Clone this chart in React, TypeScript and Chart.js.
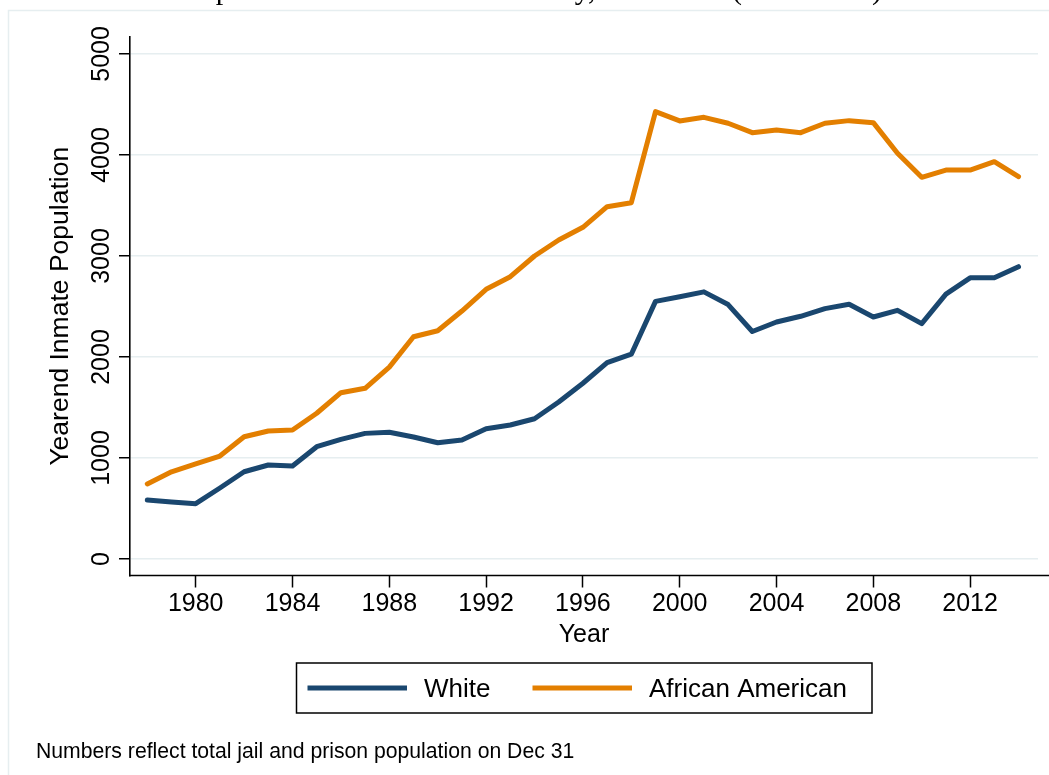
import React, { useEffect, useRef } from "react";
import { Chart, registerables } from "chart.js";

Chart.register(...registerables);

// ---------- data ----------
const years = [
  1978, 1979, 1980, 1981, 1982, 1983, 1984, 1985, 1986, 1987, 1988, 1989,
  1990, 1991, 1992, 1993, 1994, 1995, 1996, 1997, 1998, 1999, 2000, 2001,
  2002, 2003, 2004, 2005, 2006, 2007, 2008, 2009, 2010, 2011, 2012, 2013, 2014,
];
const whitePop = [
  584, 564, 548, 703, 864, 931, 921, 1112, 1185, 1244, 1255, 1208,
  1151, 1178, 1290, 1327, 1389, 1554, 1740, 1944, 2028, 2551, 2596, 2645,
  2519, 2253, 2347, 2403, 2479, 2522, 2396, 2462, 2330, 2622, 2784, 2784, 2894,
];
const africanAmericanPop = [
  743, 864, 941, 1020, 1211, 1267, 1277, 1443, 1647, 1690, 1900, 2201,
  2260, 2455, 2670, 2795, 3000, 3158, 3284, 3488, 3528, 4429, 4337, 4373,
  4314, 4221, 4248, 4221, 4314, 4340, 4320, 4017, 3779, 3851, 3851, 3934, 3785,
];
const seriesLabels = ["White", "African American"];
const xTickValues = [1980, 1984, 1988, 1992, 1996, 2000, 2004, 2008, 2012];
const yTickValues = [0, 1000, 2000, 3000, 4000, 5000];
const xAxisTitle = "Year";
const yAxisTitle = "Yearend Inmate Population";
const chartTitle = "Yearend Inmate Population in Sacramento County, California (1978-2014)";
const footnote = "Numbers reflect total jail and prison population on Dec 31";

// ---------- style ----------
const NAVY = "#1a476f";
const ORANGE = "#e37f00";
const GRID = "#e6eef0";
const SANS = "'Liberation Sans', Arial, Helvetica, sans-serif";
const SERIF = "'Liberation Serif', 'Times New Roman', serif";
const W = 1049;
const H = 775;

const overlayPlugin = {
  id: "stataOverlay",
  beforeDraw(chart: any) {
    const ctx = chart.ctx;
    ctx.save();
    ctx.fillStyle = "#ffffff";
    ctx.fillRect(0, 0, W, H);
    // outer graph region border
    ctx.strokeStyle = GRID;
    ctx.lineWidth = 1.5;
    ctx.beginPath();
    ctx.moveTo(8.5, H);
    ctx.lineTo(8.5, 10.5);
    ctx.lineTo(W, 10.5);
    ctx.stroke();
    // cut-off title
    ctx.fillStyle = "#000";
    ctx.font = `30px ${SERIF}`;
    ctx.textAlign = "right";
    ctx.textBaseline = "alphabetic";
    ctx.fillText(chartTitle, 882, -1.5);
    ctx.restore();
  },
  afterDraw(chart: any) {
    const ctx = chart.ctx;
    const area = chart.chartArea;
    const yScale = chart.scales.y;
    ctx.save();
    // x axis line (extends to the right edge)
    ctx.strokeStyle = "#000";
    ctx.lineWidth = 1.6;
    ctx.beginPath();
    ctx.moveTo(area.left - 0.8, area.bottom);
    ctx.lineTo(W, area.bottom);
    ctx.stroke();

    // y tick labels, rotated
    ctx.fillStyle = "#000";
    ctx.font = `25px ${SANS}`;
    ctx.textAlign = "center";
    ctx.textBaseline = "alphabetic";
    yScale.ticks.forEach((t: any) => {
      const py = yScale.getPixelForValue(t.value);
      ctx.save();
      ctx.translate(108.5, py);
      ctx.rotate(-Math.PI / 2);
      ctx.fillText(String(t.value), 0, 0);
      ctx.restore();
    });

    // legend
    const lx0 = 296.5, lx1 = 872, ly0 = 663, ly1 = 713;
    ctx.strokeStyle = "#000";
    ctx.lineWidth = 1.5;
    ctx.strokeRect(lx0, ly0, lx1 - lx0, ly1 - ly0);
    const ly = (ly0 + ly1) / 2;
    const entries = [
      { label: seriesLabels[0], color: NAVY, x0: 307.5, x1: 407, tx: 424 },
      { label: seriesLabels[1], color: ORANGE, x0: 532.5, x1: 632, tx: 649 },
    ];
    ctx.font = `26px ${SANS}`;
    ctx.textAlign = "left";
    entries.forEach((e) => {
      ctx.strokeStyle = e.color;
      ctx.lineWidth = 5;
      ctx.lineCap = "butt";
      ctx.beginPath();
      ctx.moveTo(e.x0, ly);
      ctx.lineTo(e.x1, ly);
      ctx.stroke();
      ctx.fillStyle = "#000";
      ctx.fillText(e.label, e.tx, 697);
    });

    // footnote
    ctx.font = `21.2px ${SANS}`;
    ctx.fillText(footnote, 36, 758);
    ctx.restore();
  },
};

export default function App() {
  const canvasRef = useRef<HTMLCanvasElement | null>(null);

  useEffect(() => {
    if (!canvasRef.current) return;
    const chart = new Chart(canvasRef.current, {
      type: "line",
      data: {
        datasets: [
          {
            label: seriesLabels[0],
            data: years.map((yr, i) => ({ x: yr, y: whitePop[i] })),
            borderColor: NAVY,
            backgroundColor: NAVY,
            borderWidth: 5,
            pointRadius: 0,
            tension: 0,
            borderJoinStyle: "round",
            borderCapStyle: "round",
          },
          {
            label: seriesLabels[1],
            data: years.map((yr, i) => ({ x: yr, y: africanAmericanPop[i] })),
            borderColor: ORANGE,
            backgroundColor: ORANGE,
            borderWidth: 5,
            pointRadius: 0,
            tension: 0,
            borderJoinStyle: "round",
            borderCapStyle: "round",
          },
        ],
      },
      options: {
        responsive: false,
        animation: false,
        devicePixelRatio: 1,
        layout: { padding: { left: 0, top: 37, right: 11, bottom: 109.5 } },
        plugins: {
          legend: { display: false },
          title: { display: false },
          tooltip: { enabled: false },
        },
        scales: {
          x: {
            type: "linear",
            min: 1977.285,
            max: 2014.805,
            afterFit: (s: any) => {
              s.height = 90;
            },
            afterBuildTicks: (s: any) => {
              s.ticks = xTickValues.map((v) => ({ value: v }));
            },
            border: { display: false },
            grid: {
              display: true,
              drawOnChartArea: false,
              drawTicks: true,
              tickLength: 12,
              tickColor: "#000",
              tickWidth: 1.5,
            },
            ticks: {
              autoSkip: false,
              maxRotation: 0,
              minRotation: 0,
              padding: 1.8,
              color: "#000",
              font: { family: SANS, size: 25 },
              callback: (v: any) => String(v),
            },
            title: {
              display: true,
              text: xAxisTitle,
              color: "#000",
              font: { family: SANS, size: 25 },
              padding: { top: 0, bottom: 15 },
            },
          },
          y: {
            type: "linear",
            min: -163,
            max: 5168,
            afterFit: (s: any) => {
              s.width = 130;
            },
            afterBuildTicks: (s: any) => {
              s.ticks = yTickValues.map((v) => ({ value: v }));
            },
            border: { display: true, color: "#000", width: 1.6 },
            grid: {
              display: true,
              drawOnChartArea: true,
              color: GRID,
              lineWidth: 1.5,
              drawTicks: true,
              tickLength: 11,
              tickColor: "#000",
              tickWidth: 1.5,
            },
            ticks: { display: false },
            title: {
              display: true,
              text: yAxisTitle,
              color: "#000",
              font: { family: SANS, size: 26.5 },
              padding: { top: 45, bottom: 0 },
            },
          },
        },
      },
      plugins: [overlayPlugin],
    } as any);
    return () => chart.destroy();
  }, []);

  return (
    <div style={{ position: "absolute", left: 0, top: 0, width: W, height: H }}>
      <canvas ref={canvasRef} width={W} height={H} style={{ display: "block", width: W, height: H }} />
    </div>
  );
}
